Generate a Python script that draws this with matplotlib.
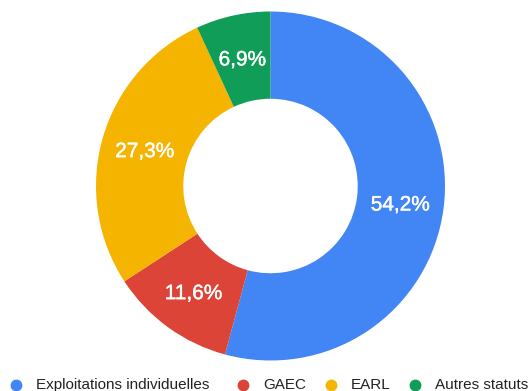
import numpy as np
import matplotlib.pyplot as plt
import matplotlib.patheffects as pe
from matplotlib.lines import Line2D

plt.rcParams['font.family'] = ['Liberation Sans', 'DejaVu Sans']

# Répartition des exploitations par statut juridique (%)
statuts = ['Exploitations individuelles', 'GAEC', 'EARL', 'Autres statuts']
parts = [54.2, 11.6, 27.3, 6.9]
couleurs = ['#4285F4', '#DB4437', '#F4B400', '#0F9D58']

W, H = 529, 391
fig = plt.figure(figsize=(W / 100, H / 100), dpi=100)

# anneau centré en (270, 186) px, rayon 174.5 px
cx, cy, r = 270.5, 186, 174.5
ax = fig.add_axes([(cx - r) / W, (H - cy - r) / H, 2 * r / W, 2 * r / H])

wedges, texts = ax.pie(parts, colors=couleurs, startangle=90, counterclock=False,
                       radius=1.0, wedgeprops=dict(width=0.5, linewidth=0))
ax.set_xlim(-1, 1)
ax.set_ylim(-1, 1)
ax.set_aspect('equal')
ax.axis('off')

# étiquettes de pourcentage au milieu de l'anneau (trait blanc léger pour épaissir)
for w, p in zip(wedges, parts):
    ang = np.deg2rad((w.theta1 + w.theta2) / 2)
    x, y = 0.75 * np.cos(ang), 0.75 * np.sin(ang)
    ax.text(x, y - 0.01, f'{p:.1f}%'.replace('.', ','), ha='center', va='center',
            color='white', fontsize=15,
            path_effects=[pe.withStroke(linewidth=0.3, foreground='white')])

# légende en bas, placée à la main
leg_x = [16, 243, 331, 415]
leg_y = 1 - 385 / H
for xp, lab, c in zip(leg_x, statuts, couleurs):
    fig.add_artist(Line2D([xp / W], [leg_y], marker='o', markersize=7.5,
                          markerfacecolor=c, markeredgecolor=c,
                          transform=fig.transFigure))
    fig.text((xp + 20) / W, leg_y, lab, ha='left', va='center',
             fontsize=10.95, color='#222222')

fig.savefig('out.png', dpi=100)
